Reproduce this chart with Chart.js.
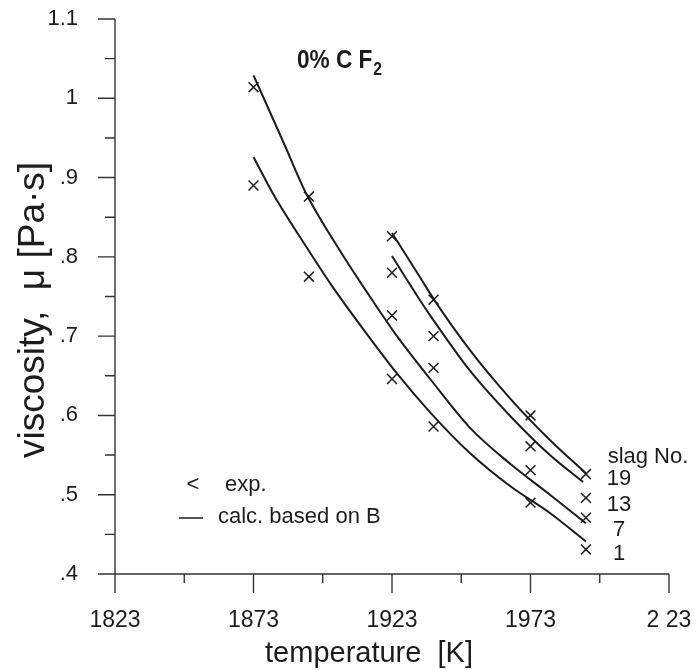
<!DOCTYPE html>
<html lang="en">
<head>
    <meta charset="UTF-8">
    <title>Viscosity vs temperature, 0% C F2</title>
    <script src="https://cdn.jsdelivr.net/npm/chart.js"></script>
    <style>
        html, body {
            margin: 0;
            padding: 0;
            background: #ffffff;
        }
        .wrap {
            position: relative;
            width: 696px;
            height: 670px;
        }
    </style>
</head>
<body>
    <div class="wrap">
        <canvas id="viscChart" width="696" height="670"></canvas>
    </div>

    <script>
        // axis ticks
        const xTicks = [1823, 1873, 1923, 1973, 2023];
        const xTickLabels = ['1823', '1873', '1923', '1973', '2 23'];
        const xMinorTicks = [1848, 1898, 1948, 1998];
        const yTicks = [0.4, 0.5, 0.6, 0.7, 0.8, 0.9, 1.0, 1.1];
        const yTickLabels = ['.4', '.5', '.6', '.7', '.8', '.9', '1', '1.1'];
        const yMinorTicks = [0.45, 0.55, 0.65, 0.75, 0.85, 0.95, 1.05];

        // measured points (exp.), [T, viscosity]
        const exp19 = [[1923, 0.826], [1938, 0.746], [1973, 0.600], [1993, 0.526]];
        const exp13 = [[1923, 0.780], [1938, 0.700], [1973, 0.561], [1993, 0.496]];
        const exp7 = [[1873, 1.014], [1893, 0.876], [1923, 0.726], [1938, 0.660], [1973, 0.531], [1993, 0.471]];
        const exp1 = [[1873, 0.890], [1893, 0.775], [1923, 0.646], [1938, 0.586], [1973, 0.490], [1993, 0.431]];

        // calculated curves (calc. based on B)
        const calc19 = [[1923, 0.830], [1933, 0.775], [1938, 0.747], [1951, 0.683], [1966, 0.620], [1980, 0.569], [1993, 0.527]];
        const calc13 = [[1923, 0.801], [1933, 0.746], [1937, 0.725], [1951, 0.657], [1966, 0.598], [1980, 0.550], [1992, 0.516]];
        const calc7 = [[1873, 1.029], [1884, 0.943], [1892, 0.880], [1904, 0.809], [1915, 0.750], [1925, 0.699],
                       [1937, 0.645], [1951, 0.585], [1966, 0.538], [1980, 0.500], [1993, 0.464]];
        const calc1 = [[1873, 0.926], [1880, 0.880], [1892, 0.813], [1901, 0.765], [1913, 0.707], [1925, 0.652],
                       [1937, 0.603], [1951, 0.553], [1966, 0.510], [1980, 0.477], [1993, 0.441]];

        const slagNumbers = ['19', '13', '7', '1'];
        const legendLabels = ['exp.', 'calc. based on B'];
        const xTitle = 'temperature  [K]';
        const yTitle = 'viscosity,  \u03bc [Pa\u00b7s]';

        const FONT = "'Liberation Sans', Arial, Helvetica, sans-serif";
        const INK = '#1c1c1c';

        function toXY(arr) {
            return arr.map(p => ({ x: p[0], y: p[1] }));
        }

        function curveSet(arr) {
            return {
                data: toXY(arr),
                showLine: true,
                borderColor: INK,
                borderWidth: 2,
                pointRadius: 0,
                cubicInterpolationMode: 'monotone',
                fill: false
            };
        }

        function pointSet(arr) {
            return {
                data: toXY(arr),
                showLine: false,
                pointStyle: 'crossRot',
                pointRadius: 7,
                pointBorderWidth: 1.5,
                borderColor: INK,
                backgroundColor: INK
            };
        }

        // axis lines, major/minor ticks, titles and annotations
        const overlay = {
            id: 'overlay',
            afterDraw(chart) {
                const { ctx, chartArea: a } = chart;
                const x = chart.scales.x, y = chart.scales.y;

                ctx.save();
                ctx.strokeStyle = '#333';
                ctx.lineWidth = 1.4;
                ctx.beginPath();
                ctx.moveTo(a.left, a.top);
                ctx.lineTo(a.left, a.bottom);
                ctx.lineTo(a.right, a.bottom);
                yTicks.forEach(v => {
                    const py = y.getPixelForValue(v);
                    ctx.moveTo(a.left - 17, py);
                    ctx.lineTo(a.left, py);
                });
                yMinorTicks.forEach(v => {
                    const py = y.getPixelForValue(v);
                    ctx.moveTo(a.left - 10, py);
                    ctx.lineTo(a.left, py);
                });
                xTicks.forEach(v => {
                    const px = x.getPixelForValue(v);
                    ctx.moveTo(px, a.bottom);
                    ctx.lineTo(px, a.bottom + 19);
                });
                xMinorTicks.forEach(v => {
                    const px = x.getPixelForValue(v);
                    ctx.moveTo(px, a.bottom);
                    ctx.lineTo(px, a.bottom + 9);
                });
                ctx.stroke();

                ctx.fillStyle = INK;

                // axis titles
                ctx.font = '29px ' + FONT;
                ctx.textAlign = 'center';
                ctx.textBaseline = 'middle';
                ctx.fillText(xTitle, 369, 654);
                ctx.save();
                ctx.translate(34, 310);
                ctx.rotate(-Math.PI / 2);
                ctx.font = '37px ' + FONT;
                ctx.fillText(yTitle, 0, 0);
                ctx.restore();

                // title 0% C F2 (condensed bold)
                ctx.save();
                ctx.textAlign = 'left';
                ctx.textBaseline = 'alphabetic';
                ctx.translate(297, 68);
                ctx.scale(0.87, 1);
                ctx.font = 'bold 26px ' + FONT;
                const t = '0% C F';
                ctx.fillText(t, 0, 0);
                const w = ctx.measureText(t).width;
                ctx.font = 'bold 18px ' + FONT;
                ctx.fillText('2', w + 1, 7);
                ctx.restore();

                // legend
                ctx.textBaseline = 'alphabetic';
                ctx.font = '22px ' + FONT;
                ctx.textAlign = 'center';
                ctx.fillText('<', 193, 491);
                ctx.textAlign = 'left';
                ctx.fillText(legendLabels[0], 225, 491);
                ctx.fillText(legendLabels[1], 218, 523);
                ctx.beginPath();
                ctx.lineWidth = 1.5;
                ctx.strokeStyle = INK;
                ctx.moveTo(179, 518);
                ctx.lineTo(203, 518);
                ctx.stroke();

                // slag numbers
                ctx.textAlign = 'center';
                ctx.fillText('slag No.', 648, 463);
                const rows = [485, 511, 536, 560];
                slagNumbers.forEach((s, i) => ctx.fillText(s, 619, rows[i]));
                ctx.restore();
            }
        };

        const ctx = document.getElementById('viscChart').getContext('2d');

        new Chart(ctx, {
            type: 'scatter',
            data: {
                datasets: [
                    curveSet(calc19), curveSet(calc13), curveSet(calc7), curveSet(calc1),
                    pointSet(exp19), pointSet(exp13), pointSet(exp7), pointSet(exp1)
                ]
            },
            options: {
                responsive: false,
                animation: false,
                layout: {
                    padding: { left: 0, top: 19, right: 27, bottom: 0 }
                },
                plugins: {
                    legend: { display: false },
                    tooltip: { enabled: false }
                },
                scales: {
                    x: {
                        type: 'linear',
                        min: 1823,
                        max: 2023,
                        afterBuildTicks: s => { s.ticks = xTicks.map(v => ({ value: v })); },
                        afterFit: s => { s.height = 96; s.paddingLeft = 0; s.paddingRight = 0; },
                        grid: { display: false },
                        border: { display: false },
                        ticks: {
                            autoSkip: false,
                            maxRotation: 0,
                            padding: 25,
                            color: INK,
                            font: { family: FONT, size: 23 },
                            callback: (v, i) => xTickLabels[i]
                        }
                    },
                    y: {
                        type: 'linear',
                        min: 0.4,
                        max: 1.1,
                        afterBuildTicks: s => { s.ticks = yTicks.map(v => ({ value: v })); },
                        afterFit: s => { s.width = 115; s.paddingTop = 0; s.paddingBottom = 0; },
                        grid: { display: false },
                        border: { display: false },
                        ticks: {
                            autoSkip: false,
                            padding: 29,
                            color: INK,
                            font: { family: FONT, size: 22 },
                            callback: (v, i) => yTickLabels[i]
                        }
                    }
                }
            },
            plugins: [overlay]
        });
    </script>
</body>
</html>
